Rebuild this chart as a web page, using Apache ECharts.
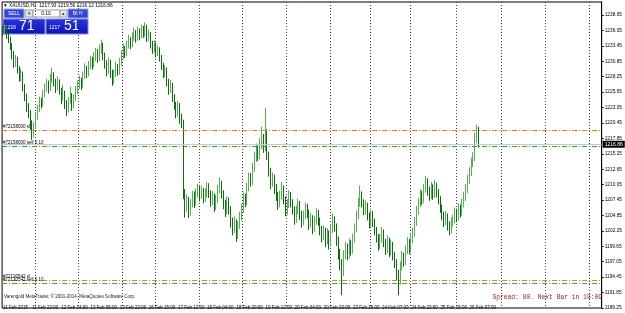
<!DOCTYPE html>
<html><head><meta charset="utf-8">
<script src="https://cdn.jsdelivr.net/npm/echarts@6/dist/echarts.min.js"></script>
<style>html,body{margin:0;padding:0;background:#fff}#c{width:625px;height:313px}</style>
</head><body><div id="c"></div>
<script>
const tickLabels = ['11 Feb 2015','11 Feb 22:00','12 Feb 14:00','13 Feb 06:00','13 Feb 22:00','16 Feb 15:00','17 Feb 12:00','18 Feb 04:00','18 Feb 20:00','19 Feb 12:00','20 Feb 04:00','20 Feb 20:00','23 Feb 16:00','24 Feb 07:00','24 Feb 23:00','25 Feb 15:00','26 Feb 07:00'];
const yTicks = [1189.25,1191.85,1194.45,1197.05,1199.65,1202.25,1204.85,1207.45,1210.05,1212.65,1215.25,1217.85,1220.45,1223.05,1225.65,1228.25,1230.85,1233.45,1236.05,1238.65];
const gridIdx = [18,42,66,84,108,132,156,180,202,224,249,274,298,322];
const barSlots = 329;
const opens = [1236.0,1235.8,1236.4,1235.2,1234.6,1233.5,1232.0,1230.4,1231.2,1229.5,
1228.1,1228.8,1226.5,1224.9,1223.0,1222.1,1220.2,1218.6,1219.9,1221.5,
1222.8,1224.1,1223.6,1225.3,1226.2,1227.0,1226.1,1227.8,1228.6,1227.3,
1226.4,1227.5,1226.0,1224.8,1225.5,1223.9,1222.7,1224.1,1225.0,1223.4,
1224.6,1225.9,1226.8,1227.5,1226.9,1228.4,1229.6,1228.8,1230.1,1231.0,
1230.2,1231.5,1232.3,1231.4,1232.8,1233.6,1231.9,1230.5,1229.2,1230.7,
1228.9,1227.6,1228.7,1229.9,1229.1,1230.6,1231.8,1232.9,1232.1,1233.5,
1234.4,1233.7,1234.9,1235.6,1234.8,1235.9,1235.1,1236.3,1235.5,1236.6,
1234.9,1235.4,1233.8,1232.9,1233.6,1232.2,1232.8,1231.5,1230.2,1228.9,
1229.4,1227.5,1226.1,1226.8,1224.9,1223.6,1222.1,1223.4,1221.2,1220.5,
1208.4,1206.2,1207.5,1205.3,1206.8,1208.2,1207.0,1208.6,1209.3,1208.1,
1209.0,1207.8,1208.5,1209.6,1208.7,1207.2,1208.1,1206.5,1207.4,1209.2,
1210.1,1208.6,1206.9,1205.8,1207.3,1206.0,1203.9,1202.6,1203.8,1201.5,
1203.1,1204.6,1205.9,1207.8,1207.1,1209.5,1211.2,1210.6,1212.8,1214.5,
1215.8,1214.9,1216.7,1217.9,1216.2,1218.8,1215.1,1212.3,1210.4,1211.2,
1209.6,1208.3,1206.9,1208.1,1209.4,1207.6,1205.8,1206.7,1208.2,1207.1,
1205.9,1204.2,1205.6,1206.8,1205.0,1203.9,1204.8,1206.1,1205.3,1203.5,
1204.4,1202.8,1203.9,1205.2,1204.0,1202.6,1201.4,1202.3,1200.6,1201.8,
1200.2,1202.5,1204.1,1203.0,1200.8,1198.6,1196.9,1195.2,1198.1,1199.5,
1198.2,1200.1,1199.0,1200.9,1202.6,1204.8,1206.9,1208.3,1207.1,1205.8,
1206.5,1204.9,1203.6,1205.1,1203.8,1202.4,1201.2,1199.8,1200.9,1202.0,
1200.4,1199.1,1200.6,1198.7,1199.9,1198.2,1197.0,1195.1,1193.8,1196.2,
1198.0,1197.1,1198.9,1200.3,1199.2,1200.8,1201.9,1203.7,1205.6,1206.9,
1208.4,1207.5,1209.3,1210.6,1209.1,1208.2,1209.6,1208.4,1209.9,1208.8,
1207.6,1206.2,1205.0,1203.8,1204.7,1203.2,1202.4,1203.6,1204.1,1205.3,
1204.6,1206.0,1205.4,1206.8,1207.9,1209.2,1210.8,1212.1,1213.7,1214.6,
1217.9,1219.3];
const closes = [1235.8,1236.4,1235.2,1234.6,1233.5,1232.0,1230.4,1231.2,1229.5,1228.1,
1228.8,1226.5,1224.9,1223.0,1222.1,1220.2,1218.6,1219.9,1221.5,1222.8,
1224.1,1223.6,1225.3,1226.2,1227.0,1226.1,1227.8,1228.6,1227.3,1226.4,
1227.5,1226.0,1224.8,1225.5,1223.9,1222.7,1224.1,1225.0,1223.4,1224.6,
1225.9,1226.8,1227.5,1226.9,1228.4,1229.6,1228.8,1230.1,1231.0,1230.2,
1231.5,1232.3,1231.4,1232.8,1233.6,1231.9,1230.5,1229.2,1230.7,1228.9,
1227.6,1228.7,1229.9,1229.1,1230.6,1231.8,1232.9,1232.1,1233.5,1234.4,
1233.7,1234.9,1235.6,1234.8,1235.9,1235.1,1236.3,1235.5,1236.6,1234.9,
1235.4,1233.8,1232.9,1233.6,1232.2,1232.8,1231.5,1230.2,1228.9,1229.4,
1227.5,1226.1,1226.8,1224.9,1223.6,1222.1,1223.4,1221.2,1220.5,1208.4,
1206.2,1207.5,1205.3,1206.8,1208.2,1207.0,1208.6,1209.3,1208.1,1209.0,
1207.8,1208.5,1209.6,1208.7,1207.2,1208.1,1206.5,1207.4,1209.2,1210.1,
1208.6,1206.9,1205.8,1207.3,1206.0,1203.9,1202.6,1203.8,1201.5,1203.1,
1204.6,1205.9,1207.8,1207.1,1209.5,1211.2,1210.6,1212.8,1214.5,1215.8,
1214.9,1216.7,1217.9,1216.2,1218.8,1215.1,1212.3,1210.4,1211.2,1209.6,
1208.3,1206.9,1208.1,1209.4,1207.6,1205.8,1206.7,1208.2,1207.1,1205.9,
1204.2,1205.6,1206.8,1205.0,1203.9,1204.8,1206.1,1205.3,1203.5,1204.4,
1202.8,1203.9,1205.2,1204.0,1202.6,1201.4,1202.3,1200.6,1201.8,1200.2,
1202.5,1204.1,1203.0,1200.8,1198.6,1196.9,1195.2,1198.1,1199.5,1198.2,
1200.1,1199.0,1200.9,1202.6,1204.8,1206.9,1208.3,1207.1,1205.8,1206.5,
1204.9,1203.6,1205.1,1203.8,1202.4,1201.2,1199.8,1200.9,1202.0,1200.4,
1199.1,1200.6,1198.7,1199.9,1198.2,1197.0,1195.1,1193.8,1196.2,1198.0,
1197.1,1198.9,1200.3,1199.2,1200.8,1201.9,1203.7,1205.6,1206.9,1208.4,
1207.5,1209.3,1210.6,1209.1,1208.2,1209.6,1208.4,1209.9,1208.8,1207.6,
1206.2,1205.0,1203.8,1204.7,1203.2,1202.4,1203.6,1204.1,1205.3,1204.6,
1206.0,1205.4,1206.8,1207.9,1209.2,1210.8,1212.1,1213.7,1214.6,1217.9,
1219.3,1216.86];
const highs = [1236.9,1237.0,1236.8,1235.7,1235.0,1233.9,1232.6,1231.9,1231.6,1230.0,
1229.6,1229.1,1227.0,1225.4,1223.8,1222.6,1220.9,1220.6,1222.3,1223.5,
1224.9,1224.7,1226.0,1227.1,1227.9,1227.6,1228.7,1229.8,1229.0,1227.9,
1228.3,1227.8,1226.4,1226.9,1225.9,1224.3,1224.8,1226.6,1225.5,1225.3,
1226.7,1227.6,1228.4,1228.1,1229.1,1230.5,1230.1,1230.9,1231.8,1231.6,
1232.4,1233.1,1232.9,1233.7,1234.5,1234.0,1232.3,1231.0,1231.5,1231.1,
1229.4,1229.5,1230.8,1230.4,1231.4,1232.7,1233.8,1233.4,1234.3,1235.3,
1234.9,1235.7,1236.5,1236.1,1236.7,1236.4,1237.0,1236.8,1237.4,1237.0,
1236.2,1235.8,1234.3,1234.4,1234.0,1233.5,1233.2,1231.9,1230.6,1230.2,
1229.8,1227.9,1227.7,1227.2,1225.3,1224.0,1224.2,1223.8,1222.0,1221.0,
1209.3,1208.4,1208.0,1207.6,1209.0,1208.9,1209.4,1210.2,1209.8,1209.9,
1209.5,1209.4,1210.5,1210.3,1209.1,1209.0,1208.6,1208.3,1210.0,1211.3,
1210.7,1209.1,1207.5,1208.1,1207.9,1206.4,1204.5,1204.7,1204.2,1203.9,
1205.5,1206.8,1208.7,1208.5,1210.4,1212.1,1212.0,1213.7,1215.6,1217.0,
1216.6,1217.9,1219.8,1218.6,1223.0,1219.4,1215.6,1212.9,1212.1,1211.7,
1210.2,1208.8,1209.0,1210.5,1209.9,1208.1,1207.6,1209.1,1208.8,1207.6,
1206.4,1206.5,1207.7,1207.3,1205.6,1205.7,1207.0,1206.8,1205.8,1205.3,
1204.9,1204.8,1206.1,1205.8,1204.5,1203.1,1203.2,1202.8,1202.7,1202.3,
1203.4,1205.2,1204.7,1203.5,1201.3,1199.2,1197.5,1199.0,1200.4,1200.1,
1201.0,1200.7,1201.8,1203.5,1205.7,1207.8,1209.9,1208.9,1207.6,1207.4,
1207.0,1205.4,1206.0,1205.6,1204.3,1202.9,1201.7,1201.8,1202.9,1202.5,
1200.9,1201.5,1201.1,1200.8,1200.4,1198.7,1197.5,1195.7,1197.1,1198.9,
1198.6,1199.8,1201.2,1200.9,1201.7,1202.8,1204.6,1206.5,1207.8,1209.3,
1209.0,1210.2,1211.5,1211.1,1209.7,1210.5,1210.1,1210.8,1210.4,1209.3,
1208.1,1206.7,1205.5,1205.6,1205.2,1203.9,1204.5,1205.0,1206.2,1206.0,
1206.9,1206.7,1207.7,1208.8,1210.1,1211.7,1213.0,1214.6,1215.5,1218.8,
1220.2,1219.8];
const lows = [1235.1,1235.3,1234.6,1233.9,1232.8,1231.2,1229.7,1229.9,1228.8,1227.4,
1227.5,1225.8,1224.1,1222.3,1221.2,1219.3,1217.6,1218.0,1219.4,1221.0,
1222.3,1222.9,1223.2,1224.8,1225.7,1225.4,1225.8,1227.2,1226.6,1225.5,
1225.9,1225.2,1223.6,1224.2,1222.8,1221.6,1222.2,1223.7,1222.5,1222.9,
1224.1,1225.3,1226.2,1226.0,1226.4,1227.9,1228.0,1228.3,1229.5,1229.4,
1229.8,1230.9,1230.6,1230.9,1232.1,1231.0,1229.6,1228.3,1228.7,1228.0,
1226.7,1227.0,1228.2,1228.4,1228.6,1230.1,1231.3,1231.4,1231.7,1233.0,
1232.9,1233.2,1234.3,1234.0,1234.3,1234.4,1234.7,1234.8,1235.0,1234.1,
1234.2,1233.0,1232.1,1232.3,1231.5,1231.7,1230.8,1229.4,1228.0,1228.2,
1226.6,1225.2,1225.5,1224.0,1222.7,1221.2,1221.5,1220.3,1219.6,1207.6,
1204.5,1205.5,1204.4,1204.8,1206.2,1206.1,1206.5,1207.9,1207.2,1207.6,
1206.9,1207.1,1207.9,1207.8,1206.3,1206.6,1205.4,1205.8,1206.9,1208.6,
1207.7,1205.9,1204.6,1205.1,1205.0,1202.8,1201.5,1201.9,1200.4,1200.9,
1202.6,1204.0,1205.3,1206.2,1206.6,1208.9,1209.7,1210.0,1212.2,1213.9,
1214.0,1214.3,1216.0,1215.4,1215.7,1214.2,1211.4,1209.3,1209.7,1208.5,
1207.3,1205.8,1206.2,1207.5,1206.7,1204.7,1205.0,1206.1,1206.2,1205.0,
1203.3,1203.6,1205.0,1204.1,1202.8,1203.2,1204.2,1204.4,1202.4,1202.8,
1201.7,1202.1,1203.3,1203.1,1201.5,1200.3,1200.7,1199.5,1200.0,1199.1,
1199.6,1201.9,1202.1,1199.7,1197.4,1195.6,1191.4,1194.6,1197.5,1197.3,
1197.6,1198.1,1198.4,1200.3,1202.0,1204.2,1206.3,1206.2,1204.9,1205.0,
1204.0,1202.7,1203.0,1202.9,1201.5,1200.3,1198.9,1199.2,1200.3,1199.5,
1198.2,1198.5,1197.8,1198.1,1197.3,1196.0,1194.0,1191.4,1193.2,1195.6,
1196.2,1196.5,1198.3,1198.3,1198.6,1200.2,1201.3,1203.1,1205.0,1206.3,
1206.6,1206.9,1208.7,1208.2,1207.3,1207.6,1207.5,1207.8,1207.9,1206.7,
1205.3,1204.1,1202.9,1203.2,1202.3,1201.5,1201.8,1203.0,1203.5,1203.7,
1204.0,1204.5,1204.8,1206.2,1207.3,1208.6,1210.2,1211.5,1213.0,1214.0,
1217.1,1216.3];
const yMin = 1189.25, yMax = 1240.84;
const slPrice = 1219.26, entryPrice = 1216.6, bidPrice = 1216.86, tpPrice = 1193.97, entry2Price = 1193.46;
const slLabel = '#72158000 sl', entryLabel = '#72158000 sell 0.10', tpLabel = '#72130542 sl', entry2Label = '#72130542 sell 0.10';
const titleText = '\u25BC XAUUSD,H1  1217.93 1219.56 1216.12 1216.86';
const copyright = 'Varengold MetaTrader, \u00A9 2001-2014, MetaQuotes Software Corp.';
const statusText = 'Spread: 80. Next Bar in 19:09';

const FF = 'Liberation Sans';
const cats = Array.from({length: barSlots}, (_, i) => String(i));
const ohlc = opens.map((o, i) => [o, closes[i], lows[i], highs[i]]);
const ddash = [5, 2, 1, 2];
function lineLabel(txt){ return {show:true, position:'insideStartTop', formatter: txt, fontSize:4.5, color:'#000', fontFamily:FF, distance:1}; }

const chart = echarts.init(document.getElementById('c'), null, {renderer:'canvas'});
chart.setOption({
  animation:false,
  backgroundColor:'#fff',
  grid:{left:2, right:20, top:2, bottom:5, show:true, borderColor:'#000', borderWidth:1, containLabel:false},
  xAxis:{type:'category', data:cats, boundaryGap:true,
    axisLine:{show:false}, axisTick:{show:false},
    axisLabel:{interval:15, formatter:(v,i)=> tickLabels[i/16] || '', fontSize:4.5, color:'#000', fontFamily:FF, align:'left', margin:-3},
    splitLine:{show:true, interval:(i)=> gridIdx.includes(i), lineStyle:{color:'#444', type:[1,2], width:1}}},
  yAxis:{type:'value', position:'right', min:yMin, max:yMax,
    axisLine:{show:true, lineStyle:{color:'#000'}},
    axisTick:{show:true, length:2, customValues:yTicks, lineStyle:{color:'#000'}},
    axisLabel:{customValues:yTicks, formatter:(v)=> Number(v).toFixed(2), fontSize:4.8, color:'#000', fontFamily:FF, margin:3},
    splitLine:{show:false}},
  series:[{
    type:'candlestick', data:ohlc, barWidth:0.6,
    itemStyle:{color:'#55b055', color0:'#0b6e0b', borderColor:'#55b055', borderColor0:'#0b6e0b', borderWidth:1},
    markLine:{symbol:'none', silent:true, animation:false,
      data:[
        {yAxis:slPrice, lineStyle:{color:'#f5782a', type:ddash, width:1}, label:lineLabel(slLabel)},
        {yAxis:bidPrice, lineStyle:{color:'#c8c8c8', type:'solid', width:1}, label:{show:true, position:'end', formatter:bidPrice.toFixed(2), backgroundColor:'#000', color:'#fff', fontSize:5, fontFamily:FF, padding:[1,2], distance:1}},
        {yAxis:entryPrice, lineStyle:{color:'#3a9a3a', type:ddash, width:1}, label:lineLabel(entryLabel)},
        {yAxis:tpPrice, lineStyle:{color:'#f5782a', type:ddash, width:1}, label:lineLabel(tpLabel)},
        {yAxis:entry2Price, lineStyle:{color:'#3aaa3a', type:ddash, width:1}, label:lineLabel(entry2Label)}
      ]}
  }],
  graphic:[
    {type:'text', left:3, top:3, style:{text:titleText, fontSize:4.8, fill:'#000', fontFamily:FF}},
    {type:'rect', shape:{x:4,y:9,width:20,height:9}, style:{fill:'#3446d6', stroke:'#9aa6ee', lineWidth:1}},
    {type:'text', x:14, y:13.5, style:{text:'SELL', fontSize:5, fill:'#fff', fontFamily:FF, align:'center', verticalAlign:'middle'}},
    {type:'rect', shape:{x:25,y:10,width:8,height:7}, style:{fill:'#e6e6e6', stroke:'#9a9a9a', lineWidth:1}},
    {type:'text', x:29, y:13.5, style:{text:'\u25BE', fontSize:5, fill:'#333', fontFamily:FF, align:'center', verticalAlign:'middle'}},
    {type:'rect', shape:{x:33,y:10,width:27,height:7}, style:{fill:'#fff', stroke:'#9a9a9a', lineWidth:1}},
    {type:'text', x:46, y:13.5, style:{text:'0.10', fontSize:5, fill:'#000', fontFamily:FF, align:'center', verticalAlign:'middle'}},
    {type:'rect', shape:{x:60,y:10,width:7,height:7}, style:{fill:'#e6e6e6', stroke:'#9a9a9a', lineWidth:1}},
    {type:'text', x:63.5, y:13.5, style:{text:'\u25B4', fontSize:5, fill:'#333', fontFamily:FF, align:'center', verticalAlign:'middle'}},
    {type:'rect', shape:{x:68,y:9,width:20,height:9}, style:{fill:'#3446d6', stroke:'#9aa6ee', lineWidth:1}},
    {type:'text', x:78, y:13.5, style:{text:'BUY', fontSize:5, fill:'#fff', fontFamily:FF, align:'center', verticalAlign:'middle'}},
    {type:'rect', shape:{x:3,y:19,width:42,height:15}, style:{fill:new echarts.graphic.LinearGradient(0,0,0,1,[{offset:0,color:'#2a36e0'},{offset:1,color:'#0c12b4'}]), stroke:'#7f88e6', lineWidth:1}},
    {type:'text', x:5, y:30, style:{text:'1216', fontSize:5, fill:'#fff', fontFamily:FF, verticalAlign:'bottom'}},
    {type:'text', x:19, y:33, style:{text:'71', fontSize:14, fill:'#fff', fontFamily:FF, verticalAlign:'bottom'}},
    {type:'rect', shape:{x:46,y:19,width:42,height:15}, style:{fill:new echarts.graphic.LinearGradient(0,0,0,1,[{offset:0,color:'#2a36e0'},{offset:1,color:'#0c12b4'}]), stroke:'#7f88e6', lineWidth:1}},
    {type:'text', x:49, y:30, style:{text:'1217', fontSize:5, fill:'#fff', fontFamily:FF, verticalAlign:'bottom'}},
    {type:'text', x:64, y:33, style:{text:'51', fontSize:14, fill:'#fff', fontFamily:FF, verticalAlign:'bottom'}},
    {type:'text', x:4, y:297, style:{text:copyright, fontSize:4.5, fill:'#222', fontFamily:FF, verticalAlign:'middle'}},
    {type:'text', x:602, y:297, style:{text:statusText, fontSize:6.3, fill:'#9b1c1c', fontFamily:'Liberation Mono', align:'right', verticalAlign:'middle'}}
  ]
});
</script></body></html>
